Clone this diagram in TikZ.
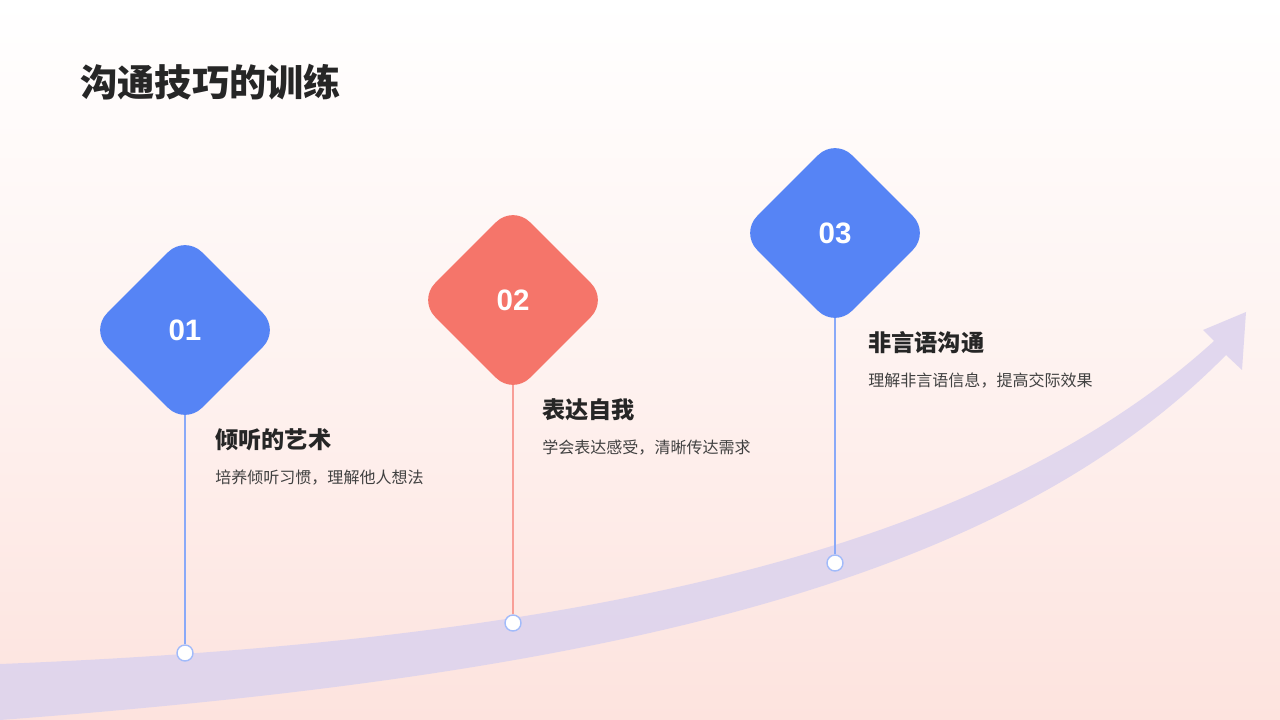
\documentclass[tikz,border=0pt]{standalone}
\usepackage{fontspec}
\setmainfont{Noto Sans CJK SC}
\newfontfamily\numfont{Liberation Sans}
\usetikzlibrary{positioning}
\definecolor{stepblue}{HTML}{5684F5}
\definecolor{stepred}{HTML}{F5756A}
\definecolor{bandcol}{HTML}{DCD3EE}
\definecolor{pinkbg}{HTML}{FDE3DE}
\definecolor{txtdark}{HTML}{262626}
\definecolor{txtgray}{HTML}{404040}
\tikzset{
  diamondbox/.style={rectangle, rotate=45, rounded corners=17pt,
    minimum size=3.35cm, inner sep=0pt},
  numtext/.style={text=white, font=\numfont\fontsize{21}{24}\selectfont\bfseries},
  headtext/.style={anchor=west, text=txtdark, font=\fontsize{16.5}{19}\selectfont\bfseries, inner sep=0pt},
  desctext/.style={anchor=west, text=txtgray, font=\fontsize{11.4}{14}\selectfont, inner sep=0pt},
  marker/.style={circle, draw=stepblue!55, fill=white, line width=1pt,
    minimum size=0.4cm, inner sep=0pt}
}
\begin{document}
\begin{tikzpicture}[x=0.025cm, y=-0.025cm]

    % Background
    \shade[top color=white, bottom color=pinkbg, middle color=pinkbg!45]
      (0,0) rectangle (1280,720);
    \useasboundingbox (0,0) rectangle (1280,720);

    % Title
    \node[anchor=west, text=txtdark, inner sep=0pt,
      font=\fontsize{26.5}{30}\selectfont\bfseries] (title) at (80,82) {沟通技巧的训练};

    % Rising band
    \fill[bandcol, opacity=0.85]
      (0,720) .. controls (600,675) and (1000,585) .. (1226,355)
      -- (1242,370) -- (1246,312) -- (1203,330) -- (1214,341)
      .. controls (990,545) and (600,640) .. (0,664) -- cycle;

    % Steps
    \foreach \n/\x/\y/\ym/\col in {1/185/330/653/stepblue, 2/513/300/623/stepred, 3/835/233/563/stepblue}
    {
    	\coordinate (Top-\n) at (\x,\y);
    	\node[marker] (Dot-\n) at (\x,\ym) {};
    	\draw[\col!70, line width=1.2pt] (Top-\n) -- (Dot-\n.north);
    	\node[diamondbox, fill=\col] (Step-\n) at (Top-\n) {};
    	\node[numtext] (Num-\n) at (Top-\n) {0\n};
    }

    % Labels
    \node[headtext] (Head-1) at (215,440) {倾听的艺术};
    \node[desctext] (Desc-1) at (215,478) {培养倾听习惯，理解他人想法};
    \node[headtext] (Head-2) at (542,410) {表达自我};
    \node[desctext] (Desc-2) at (542,448) {学会表达感受，清晰传达需求};
    \node[headtext] (Head-3) at (868,343) {非言语沟通};
    \node[desctext] (Desc-3) at (868,381) {理解非言语信息，提高交际效果};
\end{tikzpicture}
\end{document}
